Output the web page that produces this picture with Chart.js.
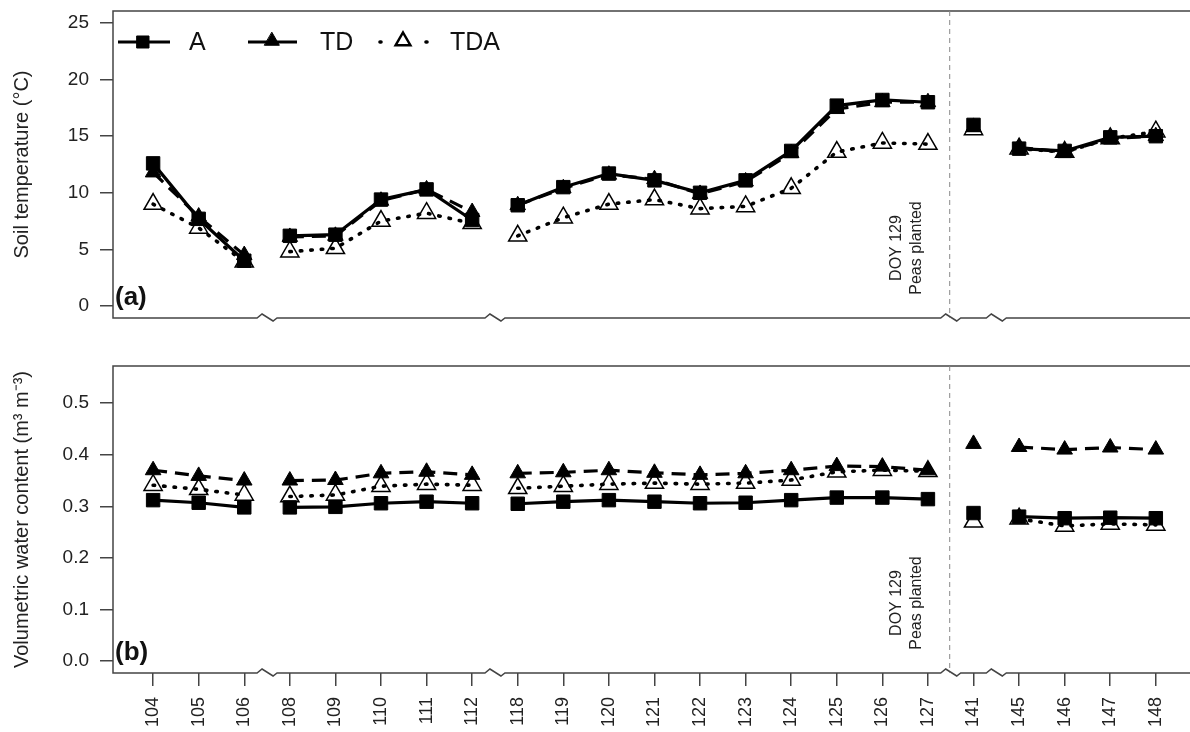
<!DOCTYPE html>
<html>
<head>
<meta charset="utf-8">
<script src="https://cdn.jsdelivr.net/npm/chart.js@4.4.1/dist/chart.umd.min.js"></script>
<style>
html,body{margin:0;padding:0;background:#fff;}
#wrap{position:relative;width:1190px;height:732px;overflow:hidden;}
#wrap canvas{position:absolute;left:0;}
</style>
</head>
<body>
<div id="wrap">
  <canvas id="tempChart" width="1190" height="340" style="top:0"></canvas>
  <canvas id="waterChart" width="1190" height="392" style="top:340px"></canvas>
</div>
<script>
// Day of year (category labels) and where the x-axis is broken
const days = ['104','105','106','108','109','110','111','112','118','119','120','121','122','123','124','125','126','127','141','145','146','147','148'];
const breakAfter = [2, 7, 17, 18];

// (a) soil temperature, deg C
const tempA   = [12.6, 7.7, 4.0, 6.2, 6.3, 9.4, 10.3, 7.6, 8.9, 10.5, 11.7, 11.1, 10.0, 11.1, 13.7, 17.7, 18.2, 18.0, 16.0, 13.9, 13.7, 14.9, 15.0];
const tempTD  = [11.8, 7.9, 4.5, 6.1, 6.2, 9.3, 10.3, 8.3, 8.9, 10.4, 11.6, 11.2, 9.9, 11.0, 13.5, 17.4, 18.0, 18.0, 15.8, 14.0, 13.6, 14.8, 15.0];
const tempTDA = [9.0, 6.9, 3.9, 4.8, 5.1, 7.5, 8.2, 7.3, 6.2, 7.8, 9.0, 9.4, 8.6, 8.8, 10.4, 13.6, 14.4, 14.3, 15.6, 13.9, 13.6, 14.8, 15.4];

// (b) volumetric water content, m3 m-3
const waterA   = [0.312, 0.307, 0.298, 0.298, 0.299, 0.306, 0.309, 0.306, 0.305, 0.309, 0.312, 0.309, 0.306, 0.307, 0.312, 0.317, 0.317, 0.314, 0.287, 0.280, 0.277, 0.278, 0.277];
const waterTD  = [0.370, 0.359, 0.350, 0.350, 0.351, 0.364, 0.367, 0.361, 0.364, 0.366, 0.370, 0.365, 0.361, 0.364, 0.370, 0.378, 0.377, 0.370, 0.421, 0.415, 0.410, 0.414, 0.410];
const waterTDA = [0.341, 0.333, 0.322, 0.319, 0.322, 0.339, 0.343, 0.341, 0.335, 0.339, 0.343, 0.345, 0.343, 0.345, 0.351, 0.367, 0.370, 0.368, 0.270, 0.276, 0.262, 0.266, 0.264];

const tempTicks  = [0, 5, 10, 15, 20, 25];
const waterTicks = [0, 0.1, 0.2, 0.3, 0.4, 0.5];

Chart.defaults.font.family = '"Liberation Sans", Arial, sans-serif';
Chart.defaults.color = '#222';

const frameColor = '#444';

function series(label, values, style){
  return Object.assign({
    label: label,
    data: values.map((v,i)=>({x:i, y:v})),
    borderColor: '#000',
    borderWidth: 3.2,
    pointBorderColor: '#000',
    pointBorderWidth: 1,
    tension: 0,
    segment: {
      borderColor: ctx => breakAfter.includes(ctx.p0DataIndex) ? 'rgba(0,0,0,0)' : undefined
    }
  }, style);
}

function datasets(a, td, tda){
  return [
    series('A', a, {pointStyle:'rect', pointRadius:9.5, pointBackgroundColor:'#000'}),
    series('TD', td, {pointStyle:'triangle', pointRadius:9, pointBackgroundColor:'#000', borderDash:[14,8]}),
    series('TDA', tda, {pointStyle:'triangle', pointRadius:10.5, pointBackgroundColor:'rgba(255,255,255,0)', pointBorderWidth:1.5, borderWidth:3.6, borderDash:[1.5,9], borderCapStyle:'round'})
  ];
}

// frame with broken x axis, planting line, note and panel letter
function panelPlugin(letter){
  return {
    id: 'panel' + letter,
    beforeDatasetsDraw(chart){
      const ctx = chart.ctx, a = chart.chartArea, x = chart.scales.x;
      ctx.save();
      ctx.strokeStyle = frameColor;
      ctx.lineWidth = 1.5;
      ctx.beginPath();
      ctx.moveTo(a.right, a.top);
      ctx.lineTo(a.left, a.top);
      ctx.lineTo(a.left, a.bottom);
      breakAfter.forEach(i=>{
        const cx = x.getPixelForValue(i + 0.5);
        ctx.lineTo(cx - 10, a.bottom);
        ctx.lineTo(cx - 5, a.bottom - 4);
        ctx.lineTo(cx + 6, a.bottom + 3);
        ctx.lineTo(cx + 10, a.bottom);
      });
      ctx.lineTo(a.right, a.bottom);
      ctx.stroke();

      // DOY 129 planting line
      const px = x.getPixelForValue(17.5) - 1;
      ctx.strokeStyle = '#888';
      ctx.lineWidth = 1;
      ctx.setLineDash([5,4]);
      ctx.beginPath();
      ctx.moveTo(px, a.top);
      ctx.lineTo(px, a.bottom);
      ctx.stroke();
      ctx.setLineDash([]);

      ctx.fillStyle = '#222';
      ctx.font = '16px "Liberation Sans", Arial, sans-serif';
      ctx.textAlign = 'center';
      ctx.textBaseline = 'middle';
      const yc = a.bottom - 70;
      [['DOY 129', px - 53], ['Peas planted', px - 33]].forEach(t=>{
        ctx.save();
        ctx.translate(t[1], yc);
        ctx.rotate(-Math.PI/2);
        ctx.fillText(t[0], 0, 0);
        ctx.restore();
      });

      ctx.font = 'bold 26px "Liberation Sans", Arial, sans-serif';
      ctx.textAlign = 'left';
      ctx.textBaseline = 'alphabetic';
      ctx.fillStyle = '#111';
      ctx.fillText('(' + letter + ')', a.left + 2, a.bottom - 13);
      ctx.restore();
    }
  };
}

function marker(ctx, style, x, y, r, filled){
  ctx.beginPath();
  if(style === 'rect'){
    const s = r * Math.SQRT1_2;
    ctx.rect(x - s, y - s, 2*s, 2*s);
  } else {
    ctx.moveTo(x, y - r);
    ctx.lineTo(x + r*0.866, y + r*0.5);
    ctx.lineTo(x - r*0.866, y + r*0.5);
    ctx.closePath();
  }
  ctx.fillStyle = filled ? '#000' : '#fff';
  ctx.fill();
  ctx.lineWidth = filled ? 1 : 2.5;
  ctx.strokeStyle = '#000';
  ctx.stroke();
}

const legendPlugin = {
  id: 'legendBox',
  afterDraw(chart){
    const ctx = chart.ctx, y = 42;
    ctx.save();
    ctx.strokeStyle = '#000';
    ctx.lineWidth = 3;
    ctx.beginPath(); ctx.moveTo(118, y); ctx.lineTo(170, y); ctx.stroke();
    ctx.beginPath(); ctx.moveTo(248, y); ctx.lineTo(297, y); ctx.stroke();
    ctx.lineCap = 'round';
    ctx.lineWidth = 3.6;
    ctx.setLineDash([1, 45]);
    ctx.beginPath(); ctx.moveTo(380, y); ctx.lineTo(428, y); ctx.stroke();
    ctx.setLineDash([]);
    marker(ctx, 'rect', 143, y, 8.5, true);
    marker(ctx, 'triangle', 272, y - 1, 8.5, true);
    marker(ctx, 'triangle', 403, y - 1, 8.5, false);
    ctx.fillStyle = '#111';
    ctx.font = '25px "Liberation Sans", Arial, sans-serif';
    ctx.textBaseline = 'middle';
    ctx.fillText('A', 189, y + 1);
    ctx.fillText('TD', 320, y + 1);
    ctx.fillText('TDA', 450, y + 1);
    ctx.restore();
  }
};

function noPad(s){
  s.paddingTop = 0; s.paddingBottom = 0; s.paddingLeft = 0; s.paddingRight = 0;
}

function xScale(show){
  return {
    type: 'linear',
    display: show,
    min: -0.88,
    max: 22.75,
    afterBuildTicks: s => { s.ticks = days.map((d,i)=>({value:i})); },
    afterFit: s => { if(show) s.height = 59; noPad(s); },
    border: {display: false},
    grid: {drawOnChartArea: false, tickLength: 13, color: frameColor, lineWidth: 1.5},
    ticks: {
      autoSkip: false,
      minRotation: 90,
      maxRotation: 90,
      padding: 11,
      font: {size: 18},
      callback: v => days[v]
    }
  };
}

function yScale(title, min, max, tickVals, fmt){
  return {
    min: min,
    max: max,
    afterBuildTicks: s => { s.ticks = tickVals.map(v=>({value:v})); },
    afterFit: s => { s.width = 113; noPad(s); },
    border: {display: false},
    grid: {drawOnChartArea: false, tickLength: 13, color: frameColor, lineWidth: 1.5},
    ticks: {padding: 11, font: {size: 19}, callback: fmt},
    title: {display: true, text: title, font: {size: 20}, padding: {top: 10, bottom: 0}}
  };
}

const common = {
  responsive: false,
  animation: false,
  events: [],
  plugins: {legend: {display: false}, tooltip: {enabled: false}}
};

new Chart(document.getElementById('tempChart'), {
  type: 'line',
  data: {datasets: datasets(tempA, tempTD, tempTDA)},
  options: Object.assign({}, common, {
    layout: {autoPadding: false, padding: {top: 11, bottom: 22, left: 0, right: 0}},
    scales: {
      x: xScale(false),
      y: yScale('Soil temperature (°C)', -1.06, 26.06, tempTicks, v => String(v))
    }
  }),
  plugins: [panelPlugin('a'), legendPlugin]
});

new Chart(document.getElementById('waterChart'), {
  type: 'line',
  data: {datasets: datasets(waterA, waterTD, waterTDA)},
  options: Object.assign({}, common, {
    layout: {autoPadding: false, padding: {top: 26, bottom: 0, left: 0, right: 0}},
    scales: {
      x: xScale(true),
      y: yScale('Volumetric water content (m³ m⁻³)', -0.023, 0.572, waterTicks, v => v.toFixed(1))
    }
  }),
  plugins: [panelPlugin('b')]
});
</script>
</body>
</html>
